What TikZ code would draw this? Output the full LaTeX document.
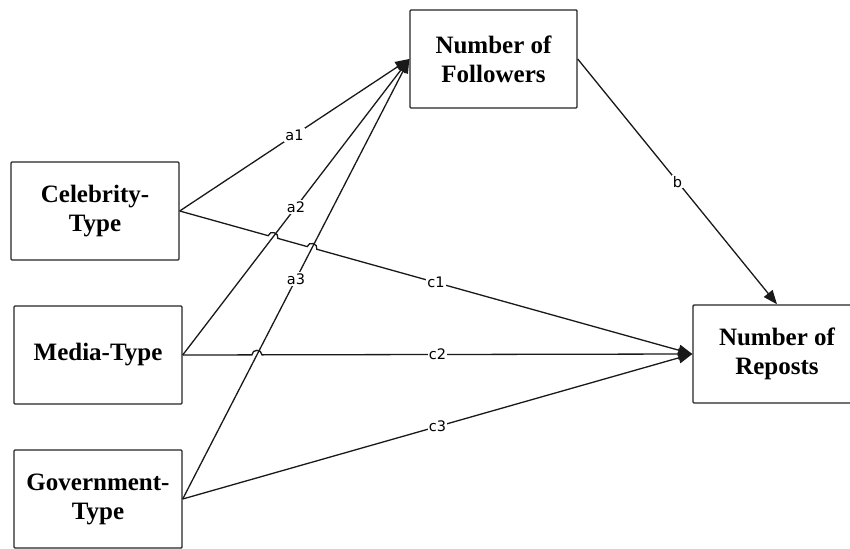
\documentclass[tikz,border=0pt]{standalone}
\usepackage{fontspec}
\setmainfont{Liberation Serif}
\newfontfamily\lblfont{DejaVu Sans}
\usetikzlibrary{arrows.meta,calc,intersections}
\tikzset{
  var/.style={draw=black!85, line width=1.4pt, rounded corners=1pt, fill=white,
    minimum width=168pt, minimum height=98pt, align=center, inner sep=2pt,
    font=\bfseries\fontsize{25}{29}\selectfont},
  conn/.style={draw=black!90, line width=1.3pt},
  arr/.style={conn, -{Triangle[length=14pt,width=11pt]}},
  lbl/.style={fill=white, inner sep=1.2pt, font=\lblfont\fontsize{14.5}{16}\selectfont}
}
\begin{document}
\begin{tikzpicture}[x=1pt,y=-1pt]
\useasboundingbox (0,0) rectangle (850,548);
\clip (0,0) rectangle (850,548);
\fill[white] (0,0) rectangle (850,548);

\node[var] (cel) at (95,211) {Celebrity-\\Type};
\node[var] (med) at (98,355) {Media-Type};
\node[var] (gov) at (98,499) {Government-\\Type};
\node[var, minimum width=167pt] (fol) at (493.5,59) {Number of\\Followers};
\node[var] (rep) at (777,354) {Number of\\Reposts};

% invisible paths for crossings
\path[name path=a2p] (med.east) -- (fol.west);
\path[name path=a3p] (gov.east) -- (fol.west);
\path[name path=c1p] (cel.east) -- (rep.west);
\path[name path=c2p] (med.east) -- (rep.west);
\path[name intersections={of=a2p and c1p, by=x1}];
\path[name intersections={of=a3p and c1p, by=x2}];
\path[name intersections={of=a3p and c2p, by=x3}];
\coordinate (x1a) at ($(x1)!5pt!(cel.east)$);
\coordinate (x1b) at ($(x1)!5pt!(rep.west)$);
\coordinate (x2a) at ($(x2)!5pt!(cel.east)$);
\coordinate (x2b) at ($(x2)!5pt!(rep.west)$);
\coordinate (x3a) at ($(x3)!5pt!(med.east)$);
\coordinate (x3b) at ($(x3)!5pt!(rep.west)$);

% a paths
\draw[arr] (cel.east) -- (fol.west) node[lbl, midway] {a1};
\draw[arr] (med.east) -- (fol.west) node[lbl, midway] {a2};
\draw[arr] (gov.east) -- (fol.west) node[lbl, midway] {a3};

% c paths with hops
\draw[arr] (cel.east) -- (x1a)
  .. controls ($(x1a)!6pt!90:(x1b)$) and ($(x1b)!6pt!-90:(x1a)$) .. (x1b)
  -- (x2a)
  .. controls ($(x2a)!6pt!90:(x2b)$) and ($(x2b)!6pt!-90:(x2a)$) .. (x2b)
  -- (rep.west);
\draw[arr] (med.east) -- (x3a)
  .. controls ($(x3a)!6pt!90:(x3b)$) and ($(x3b)!6pt!-90:(x3a)$) .. (x3b)
  -- (rep.west);
\draw[arr] (gov.east) -- (rep.west);

\node[lbl] (lc1) at ($(cel.east)!0.5!(rep.west)$) {c1};
\node[lbl] (lc2) at ($(med.east)!0.5!(rep.west)$) {c2};
\node[lbl] (lc3) at ($(gov.east)!0.5!(rep.west)$) {c3};

% b path
\draw[arr] (fol.east) -- (rep.north) node[lbl, midway] {b};
\end{tikzpicture}
\end{document}
